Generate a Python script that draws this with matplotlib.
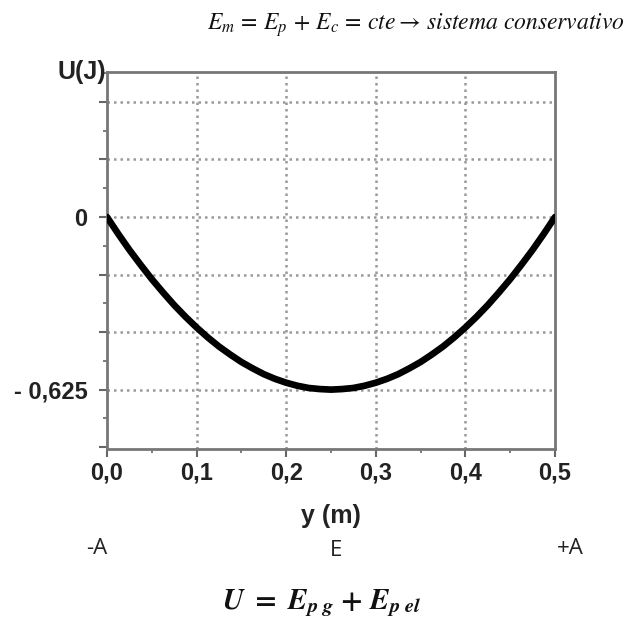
import numpy as np
import matplotlib
matplotlib.use("Agg")
import matplotlib.pyplot as plt
from matplotlib.ticker import FixedLocator

# data
y_pos = [0.0, 0.0125, 0.025, 0.0375, 0.05, 0.0625, 0.075, 0.0875, 0.1, 0.1125,
         0.125, 0.1375, 0.15, 0.1625, 0.175, 0.1875, 0.2, 0.2125, 0.225, 0.2375,
         0.25, 0.2625, 0.275, 0.2875, 0.3, 0.3125, 0.325, 0.3375, 0.35, 0.3625,
         0.375, 0.3875, 0.4, 0.4125, 0.425, 0.4375, 0.45, 0.4625, 0.475, 0.4875, 0.5]
U_vals = [0.0, -0.061, -0.119, -0.173, -0.225, -0.273, -0.319, -0.361, -0.4, -0.436,
          -0.469, -0.498, -0.525, -0.548, -0.569, -0.586, -0.6, -0.611, -0.619, -0.623,
          -0.625, -0.623, -0.619, -0.611, -0.6, -0.586, -0.569, -0.548, -0.525, -0.498,
          -0.469, -0.436, -0.4, -0.361, -0.319, -0.273, -0.225, -0.173, -0.119, -0.061, 0.0]
x_ticks = [0.0, 0.1, 0.2, 0.3, 0.4, 0.5]
x_tick_labels = ["0,0", "0,1", "0,2", "0,3", "0,4", "0,5"]
y_step = 0.625 / 3
y_major = [-4 * y_step, -3 * y_step, -2 * y_step, -y_step, 0.0, y_step, 2 * y_step]
y_label_map = {0: "0", -3: "- 0,625"}

W, H = 631, 629
fig = plt.figure(figsize=(W / 100, H / 100), dpi=100)
plt.rcParams['mathtext.fontset'] = 'stix'

def fx(px):
    return px / W

def fy(py):
    return 1 - py / H

ax = fig.add_axes([fx(107), fy(449), (555 - 107) / W, (449 - 72) / H])
ax.plot(y_pos, U_vals, color='black', lw=4.8, solid_capstyle='round',
        solid_joinstyle='round', zorder=3)
ax.set_xlim(0, 0.5)
ax.set_ylim(-0.84, 0.525)

ax.set_xticks(x_ticks)
ax.set_xticklabels(x_tick_labels, fontfamily='Liberation Sans', fontweight='bold',
                   fontsize=17, color='#222222')
ax.xaxis.set_minor_locator(FixedLocator([0.05, 0.15, 0.25, 0.35, 0.45]))
ax.set_yticks(y_major)
labels = []
for i in range(-4, 3):
    labels.append(y_label_map.get(i, ""))
ax.set_yticklabels(labels, fontfamily='Liberation Sans', fontweight='bold',
                   fontsize=17, color='#222222')
ax.yaxis.set_minor_locator(FixedLocator([v + y_step / 2 for v in y_major]))

ax.tick_params(which='major', direction='out', length=6, width=1.5, color='#666666', pad=3)
ax.tick_params(which='minor', direction='out', length=3, width=1.2, color='#666666')
ax.tick_params(axis='y', which='major', pad=8)

for v in x_ticks[1:-1]:
    ax.axvline(v, color='#999999', lw=1.8, ls=(0, (1, 1.6)), zorder=1)
for v in y_major[1:]:
    ax.axhline(v, color='#999999', lw=1.8, ls=(0, (1, 1.6)), zorder=1)

for s in ax.spines.values():
    s.set_color('#777777')
    s.set_linewidth(2)

fig.text(fx(82), fy(72), "U(J)", fontfamily='Liberation Sans', fontweight='bold',
         fontsize=18, ha='center', va='center', color='#222222')
fig.text(fx(331), fy(516), "y (m)", fontfamily='Liberation Sans', fontweight='bold',
         fontsize=18, ha='center', va='center', color='#222222')
fig.text(fx(97), fy(549), "-A", fontfamily='Open Sans', fontsize=16,
         ha='center', va='center', color='#222222')
fig.text(fx(336), fy(551), "E", fontfamily='Open Sans', fontsize=16,
         ha='center', va='center', color='#222222')
fig.text(fx(570), fy(549), "+A", fontfamily='Open Sans', fontsize=16,
         ha='center', va='center', color='#222222')

fig.text(fx(625), fy(25),
         r"$E_m\,=\,E_p\,+\,E_c\,=\,cte\rightarrow\,sistema\ conservativo$",
         fontsize=17, ha='right', va='center', color='#111111')
fig.text(fx(322), fy(603),
         r"$\mathbfit{U}\ \mathbf{=}\ \mathbfit{E}_{\mathbfit{p\ g}}\ \mathbf{+}\ \mathbfit{E}_{\mathbfit{p\ el}}$",
         fontsize=21, ha='center', va='center', color='#111111')

fig.savefig("out.png", dpi=100)
